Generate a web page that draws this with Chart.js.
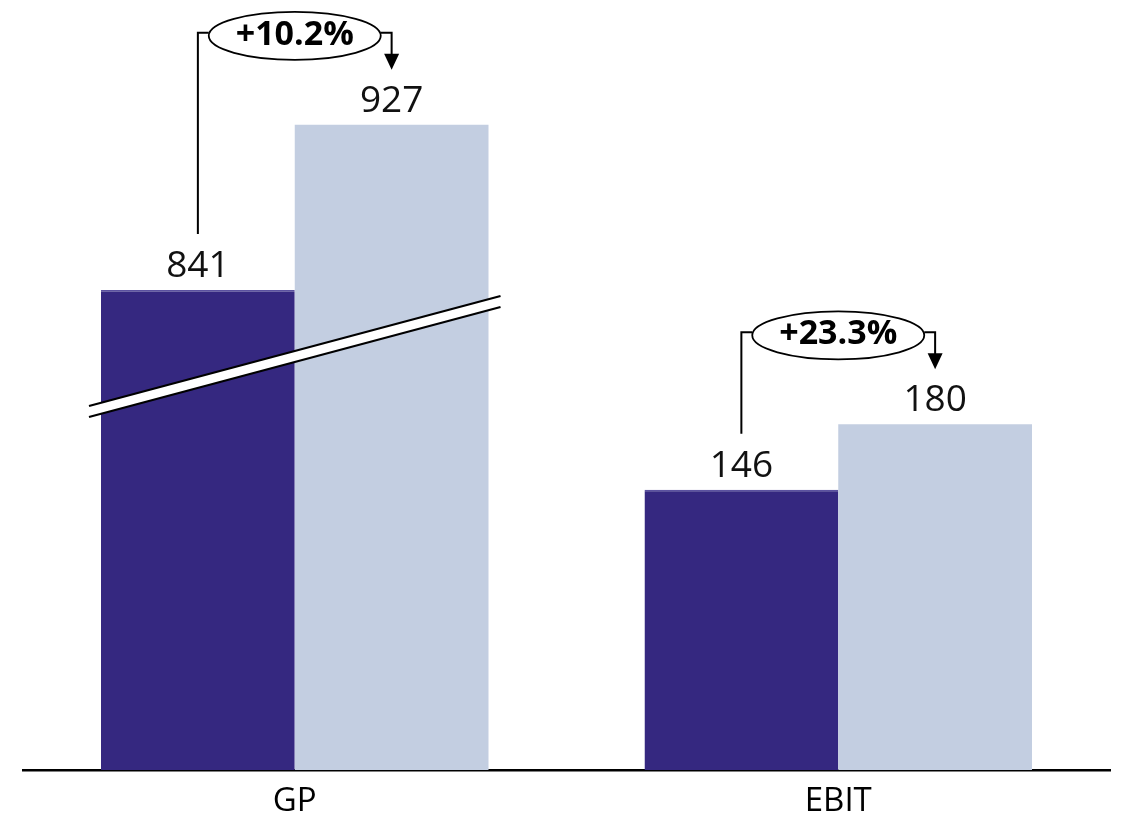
<!DOCTYPE html>
<html>
<head>
<meta charset="utf-8">
<script src="https://cdn.jsdelivr.net/npm/chart.js@4.4.1/dist/chart.umd.min.js"></script>
<style>
  html, body { margin: 0; padding: 0; background: #ffffff; }
  #wrap { width: 1125px; height: 825px; position: relative; }
</style>
</head>
<body>
<div id="wrap"><canvas id="c" width="1125" height="825"></canvas></div>
<script>
// ---- data ----
const categories = ['GP', 'EBIT'];
const seriesPrior = [841, 146];
const seriesCurrent = [927, 180];
const growthLabels = ['+10.2%', '+23.3%'];
// axis break: amount removed from the displayed bar height (GP only)
const axisBreak = [591, 0];

const colorPrior = '#352880';
const colorCurrent = '#c3cee1';
const FONT = "'Open Sans', 'Noto Sans', sans-serif";

const shownPrior = seriesPrior.map((v, i) => v - axisBreak[i]);
const shownCurrent = seriesCurrent.map((v, i) => v - axisBreak[i]);

const annotPlugin = {
  id: 'annot',
  afterDatasetsDraw(chart) {
    const ctx = chart.ctx;
    const m0 = chart.getDatasetMeta(0).data;
    const m1 = chart.getDatasetMeta(1).data;
    ctx.save();
    // value labels
    ctx.font = '37px ' + FONT;
    ctx.fillStyle = '#111111';
    ctx.textAlign = 'center';
    ctx.textBaseline = 'alphabetic';
    m0.forEach((b, i) => ctx.fillText(String(seriesPrior[i]), b.x, b.y - 13));
    m1.forEach((b, i) => ctx.fillText(String(seriesCurrent[i]), b.x, b.y - 13));

    // axis break on categories with a break
    axisBreak.forEach((brk, i) => {
      if (!brk) return;
      const a = m0[i], b = m1[i];
      const x1 = a.x - a.width / 2 - 12;
      const x2 = b.x + b.width / 2 + 12;
      const yBase = chart.scales.y.getPixelForValue(0);
      const y1 = yBase - 364, y2 = yBase - 474;
      const gap = 11;
      ctx.beginPath();
      ctx.moveTo(x1, y1); ctx.lineTo(x2, y2); ctx.lineTo(x2, y2 + gap); ctx.lineTo(x1, y1 + gap); ctx.closePath();
      ctx.fillStyle = '#ffffff';
      ctx.fill();
      ctx.strokeStyle = '#000000';
      ctx.lineWidth = 2.2;
      ctx.beginPath(); ctx.moveTo(x1, y1); ctx.lineTo(x2, y2); ctx.stroke();
      ctx.beginPath(); ctx.moveTo(x1, y1 + gap); ctx.lineTo(x2, y2 + gap); ctx.stroke();
    });

    // growth annotations
    m0.forEach((a, i) => {
      const b = m1[i];
      const cx = (a.x + a.width / 2 + b.x - b.width / 2) / 2;
      const yLine = b.y - 92;
      const rx = 86, ry = 24;
      ctx.strokeStyle = '#000000';
      ctx.lineWidth = 2;
      // left connector
      ctx.beginPath();
      ctx.moveTo(a.x, a.y - 56);
      ctx.lineTo(a.x, yLine);
      ctx.lineTo(cx - rx, yLine);
      ctx.stroke();
      // right connector
      ctx.beginPath();
      ctx.moveTo(cx + rx, yLine);
      ctx.lineTo(b.x, yLine);
      ctx.lineTo(b.x, b.y - 68);
      ctx.stroke();
      // arrow head
      ctx.fillStyle = '#000000';
      ctx.beginPath();
      ctx.moveTo(b.x - 7.5, b.y - 71);
      ctx.lineTo(b.x + 7.5, b.y - 71);
      ctx.lineTo(b.x, b.y - 55);
      ctx.closePath();
      ctx.fill();
      // ellipse
      ctx.beginPath();
      ctx.ellipse(cx, yLine + 3, rx, ry, 0, 0, Math.PI * 2);
      ctx.fillStyle = '#ffffff';
      ctx.fill();
      ctx.lineWidth = 1.8;
      ctx.stroke();
      // text
      ctx.fillStyle = '#000000';
      ctx.font = 'bold 34px ' + FONT;
      ctx.textAlign = 'center';
      ctx.textBaseline = 'middle';
      ctx.fillText(growthLabels[i], cx, yLine + 2);
    });
    ctx.restore();
  }
};

new Chart(document.getElementById('c'), {
  type: 'bar',
  data: {
    labels: categories,
    datasets: [
      { data: shownPrior, backgroundColor: colorPrior, borderColor: '#5b52a0', borderWidth: { top: 1.5, left: 0, right: 0, bottom: 0 }, borderSkipped: 'bottom' },
      { data: shownCurrent, backgroundColor: colorCurrent, borderWidth: 0 }
    ]
  },
  options: {
    responsive: false,
    animation: false,
    events: [],
    datasets: { bar: { categoryPercentage: 0.713, barPercentage: 1.0 } },
    layout: { padding: { left: 23, right: 15, top: 0, bottom: 0 } },
    plugins: { legend: { display: false }, tooltip: { enabled: false } },
    scales: {
      x: {
        grid: { display: false, drawTicks: false },
        border: { display: true, color: '#000000', width: 2.5 },
        ticks: { color: '#000000', font: { family: FONT, size: 33 }, padding: 12 },
        afterFit(scale) { scale.height = 55; }
      },
      y: {
        display: false,
        min: 0,
        max: 401,
        grid: { display: false }
      }
    }
  },
  plugins: [annotPlugin]
});
</script>
</body>
</html>
